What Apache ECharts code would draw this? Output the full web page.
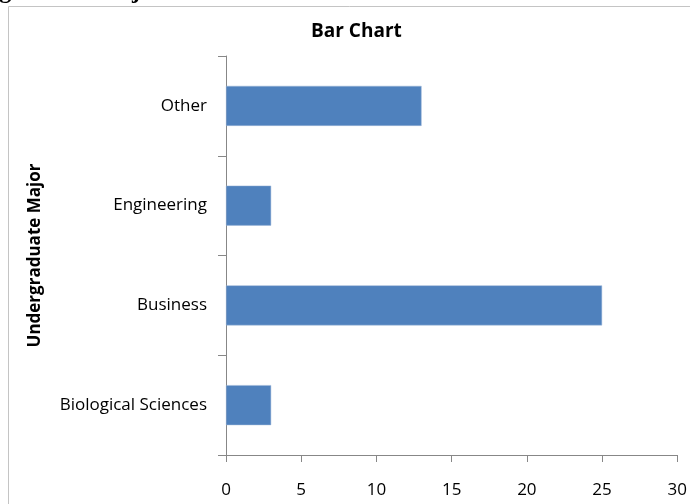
<!DOCTYPE html>
<html><head><meta charset="utf-8">
<script src="https://cdn.jsdelivr.net/npm/echarts@6/dist/echarts.min.js"></script>
<style>html,body{margin:0;padding:0;background:#fff}#c{width:690px;height:504px}</style>
</head><body><div id="c"></div>
<script>
const categories = ["Biological Sciences", "Business", "Engineering", "Other"];
const values = [3, 25, 3, 13];
const xTicks = [0, 5, 10, 15, 20, 25, 30];
const chartTitle = "Bar Chart";
const yAxisName = "Undergraduate Major";
const topCutText = "Undergraduate Major";

const chart = echarts.init(document.getElementById('c'), null, {renderer: 'canvas'});
const font = '"Open Sans", "Noto Sans", sans-serif';
chart.setOption({
  animation: false,
  title: {text: chartTitle, left: 306, top: 17,
    textStyle: {fontFamily: font, fontSize: 19, fontWeight: 'bold', color: '#000'}},
  graphic: [
    {type: 'rect', shape: {x: 8.5, y: 6.5, width: 700, height: 600},
     style: {fill: 'none', stroke: '#c4c4c4', lineWidth: 1}, silent: true, z: -1},
    {type: 'text', x: -66, y: 4,
     style: {text: topCutText, font: 'bold 24px "Liberation Serif", serif', fill: '#000',
       verticalAlign: 'bottom'}}
  ],
  grid: {left: 226, right: 10, top: 56, bottom: 49, containLabel: false},
  xAxis: {
    type: 'value', min: xTicks[0], max: xTicks[xTicks.length - 1], interval: 5,
    axisLine: {show: true, lineStyle: {color: '#878787'}},
    axisTick: {show: true, length: 7, lineStyle: {color: '#878787'}},
    splitLine: {show: false},
    axisLabel: {margin: 27, fontFamily: font, fontSize: 17, color: '#000'}
  },
  yAxis: {
    type: 'category', data: categories,
    name: yAxisName, nameLocation: 'middle', nameGap: 182, nameRotate: 90,
    nameTextStyle: {fontFamily: font, fontSize: 17, fontWeight: 'bold', color: '#000'},
    axisLine: {show: true, lineStyle: {color: '#878787'}},
    axisTick: {show: true, length: 8, inside: false, alignWithLabel: false, lineStyle: {color: '#878787'}},
    axisLabel: {margin: 19, fontFamily: font, fontSize: 17, color: '#000'}
  },
  series: [{type: 'bar', data: values, barWidth: 40,
    itemStyle: {color: '#4F81BD', borderColor: '#9db6d8', borderWidth: 0.5}}]
});
</script></body></html>
